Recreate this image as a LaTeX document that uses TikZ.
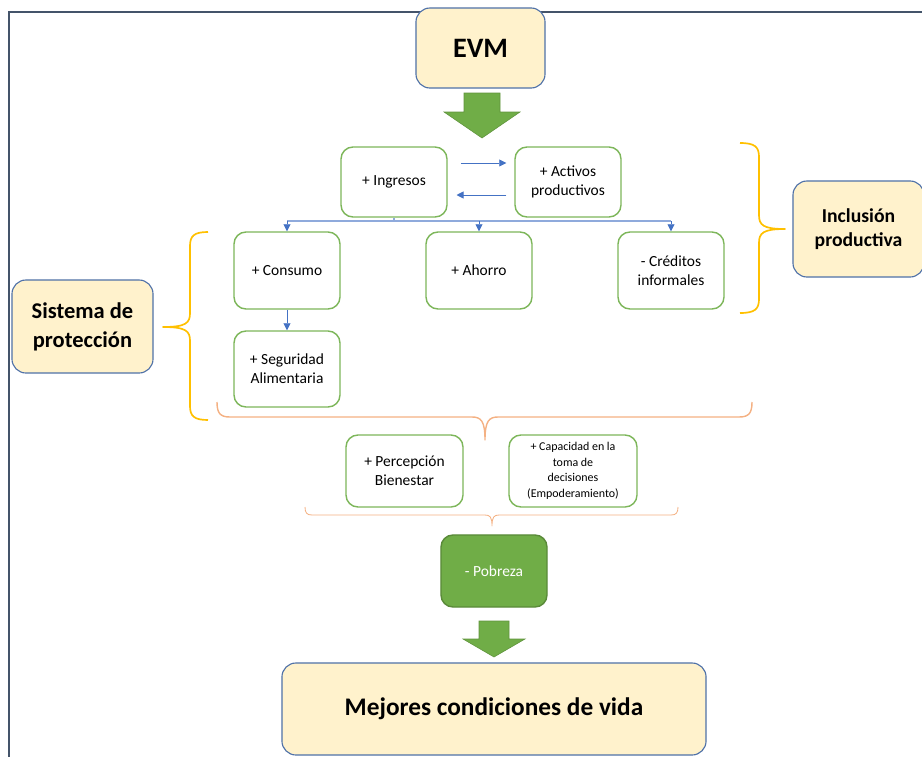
\documentclass[tikz,border=0pt]{standalone}
\usepackage{fontspec}
\setmainfont{Carlito}
\usepackage{xcolor}
\usepackage{tikz}
\usetikzlibrary{arrows.meta}

\definecolor{boxfill}{HTML}{FFF2CC}
\definecolor{boxline}{HTML}{4F71A8}
\definecolor{leaf}{HTML}{7DB65A}
\definecolor{leafdark}{HTML}{70AD47}
\definecolor{flowblue}{HTML}{4472C4}
\definecolor{busblue}{HTML}{8FAADC}
\definecolor{gold}{HTML}{FFC000}
\definecolor{peach}{HTML}{F4B183}
\definecolor{slate}{HTML}{44546A}

\begin{document}
\begin{tikzpicture}[x=0.025cm,y=-0.025cm]
                \tikzset{Box/.style={%
                    shape=rectangle,%
                    draw=leaf,%
                    line width=1pt,%
                    rounded corners=0.3cm,%
                    fill=white,%
                    align=center,%
                    inner sep=2pt,%
                    minimum width=2.65cm,%
                    minimum height=1.8cm,%
                    font=\fontsize{11}{13.5}\selectfont,%
                }}
                \tikzset{Title/.style={%
                    shape=rectangle,%
                    draw=boxline,%
                    line width=0.8pt,%
                    fill=boxfill,%
                    rounded corners=0.35cm,%
                    align=center,%
                }}
                \tikzset{Flow/.style={-{Triangle[width=5pt,length=5pt]},draw=flowblue,line width=0.6pt}}
                \tikzset{Bus/.style={draw=busblue,line width=1pt}}
                \tikzset{BigArrow/.style={fill=leafdark,draw=leafdark!85!black,line width=0.4pt}}
                \tikzset{Curly/.style={line width=1.2pt,line join=round}}

                \useasboundingbox (0,0) rectangle (922,757);
                \clip (0,0) rectangle (922,757);
                \draw[slate, line width=1.5pt] (9,12) rectangle (940,775);

                \node[Title, minimum width=3.225cm, minimum height=2cm,
                      font=\bfseries\fontsize{20}{24}\selectfont] (evm) at (480.5,48) {EVM};
                \node[Box, minimum height=1.75cm] (ingresos) at (394,182) {+ Ingresos};
                \node[Box, minimum height=1.75cm] (activos) at (568,182) {+ Activos\\productivos};
                \node[Box, minimum height=1.925cm] (consumo) at (287,270.5) {+ Consumo};
                \node[Box, minimum height=1.925cm] (ahorro) at (479,270.5) {+ Ahorro};
                \node[Box, minimum height=1.925cm] (creditos) at (671,270.5) {- Créditos\\informales};
                \node[Box, minimum height=1.9cm] (seguridad) at (287,369) {+ Seguridad\\Alimentaria};
                \node[Title, minimum width=3.525cm, minimum height=2.325cm,
                      font=\bfseries\fontsize{16}{20.6}\selectfont] (sistema) at (82.5,326.5) {Sistema de\\protección};
                \node[Title, minimum width=3.275cm, minimum height=2.4cm,
                      font=\bfseries\fontsize{14}{17}\selectfont] (inclusion) at (858.5,229) {Inclusión\\productiva};
                \node[Box, minimum width=2.925cm] (percepcion) at (404.5,471) {+ Percepción\\Bienestar};
                \node[Box, minimum width=3.2cm, font=\fontsize{8.5}{11}\selectfont] (capacidad) at (573,471)
                      {+ Capacidad en la\\toma de\\decisiones\\(Empoderamiento)};
                \node[Box, fill=leafdark, draw=leafdark!80!black, text=white] (pobreza) at (494,571) {- Pobreza};
                \node[Title, minimum width=10.6cm, minimum height=2.3cm,
                      font=\bfseries\fontsize{18}{22}\selectfont] (mejores) at (494,709) {Mejores condiciones de vida};

                % block arrows
                \filldraw[BigArrow] (464,93) -- (500,93) -- (500,112) -- (520,112) -- (482,138)
                      -- (444,112) -- (464,112) -- cycle;
                \filldraw[BigArrow] (479,621) -- (509,621) -- (509,639) -- (525,639) -- (494,657)
                      -- (463,639) -- (479,639) -- cycle;

                \path ([xshift=0.33cm,yshift=0.475cm]ingresos.east) edge[Flow] ([xshift=-0.2cm,yshift=0.475cm]activos.west);
                \path ([xshift=-0.2cm,yshift=-0.325cm]activos.west) edge[Flow] ([xshift=0.22cm,yshift=-0.325cm]ingresos.east);

                \coordinate (bus) at (394,221);
                \draw[Bus] (ingresos.south) -- (bus);
                \draw[Bus] (consumo.north |- bus) -- (creditos.north |- bus);
                \path (consumo.north |- bus) edge[Flow] (consumo.north);
                \path (ahorro.north |- bus) edge[Flow] (ahorro.north);
                \path (creditos.north |- bus) edge[Flow] (creditos.north);
                \path (consumo.south) edge[Flow] (seguridad.north);

                % braces
                \draw[Curly, draw=gold] (208,232) .. controls (194,232) and (190,236) .. (190,246) -- (190,313)
                      .. controls (190,323) and (186,327) .. (163,327) .. controls (186,327) and (190,331) .. (190,341)
                      -- (190,406) .. controls (190,416) and (194,420) .. (208,420);
                \draw[Curly, draw=gold] (740,143) .. controls (755,143) and (759,147) .. (759,157) -- (759,215)
                      .. controls (759,225) and (763,229) .. (785,229) .. controls (763,229) and (759,233) .. (759,243)
                      -- (759,299) .. controls (759,309) and (755,313) .. (740,313);
                \draw[Curly, draw=peach, line width=1pt] (217,402) .. controls (217,413) and (220,417) .. (230,417) -- (472,417)
                      .. controls (481,417) and (485,421) .. (485,440) .. controls (485,421) and (489,417) .. (498,417)
                      -- (739,417) .. controls (749,417) and (752,413) .. (752,402);
                \draw[Curly, draw=peach, line width=0.6pt] (305,507) .. controls (305,513) and (307,515) .. (312,515) -- (485,515)
                      .. controls (490,515) and (492,517) .. (492,526) .. controls (492,517) and (494,515) .. (499,515)
                      -- (671,515) .. controls (676,515) and (678,513) .. (678,507);
\end{tikzpicture}
\end{document}
